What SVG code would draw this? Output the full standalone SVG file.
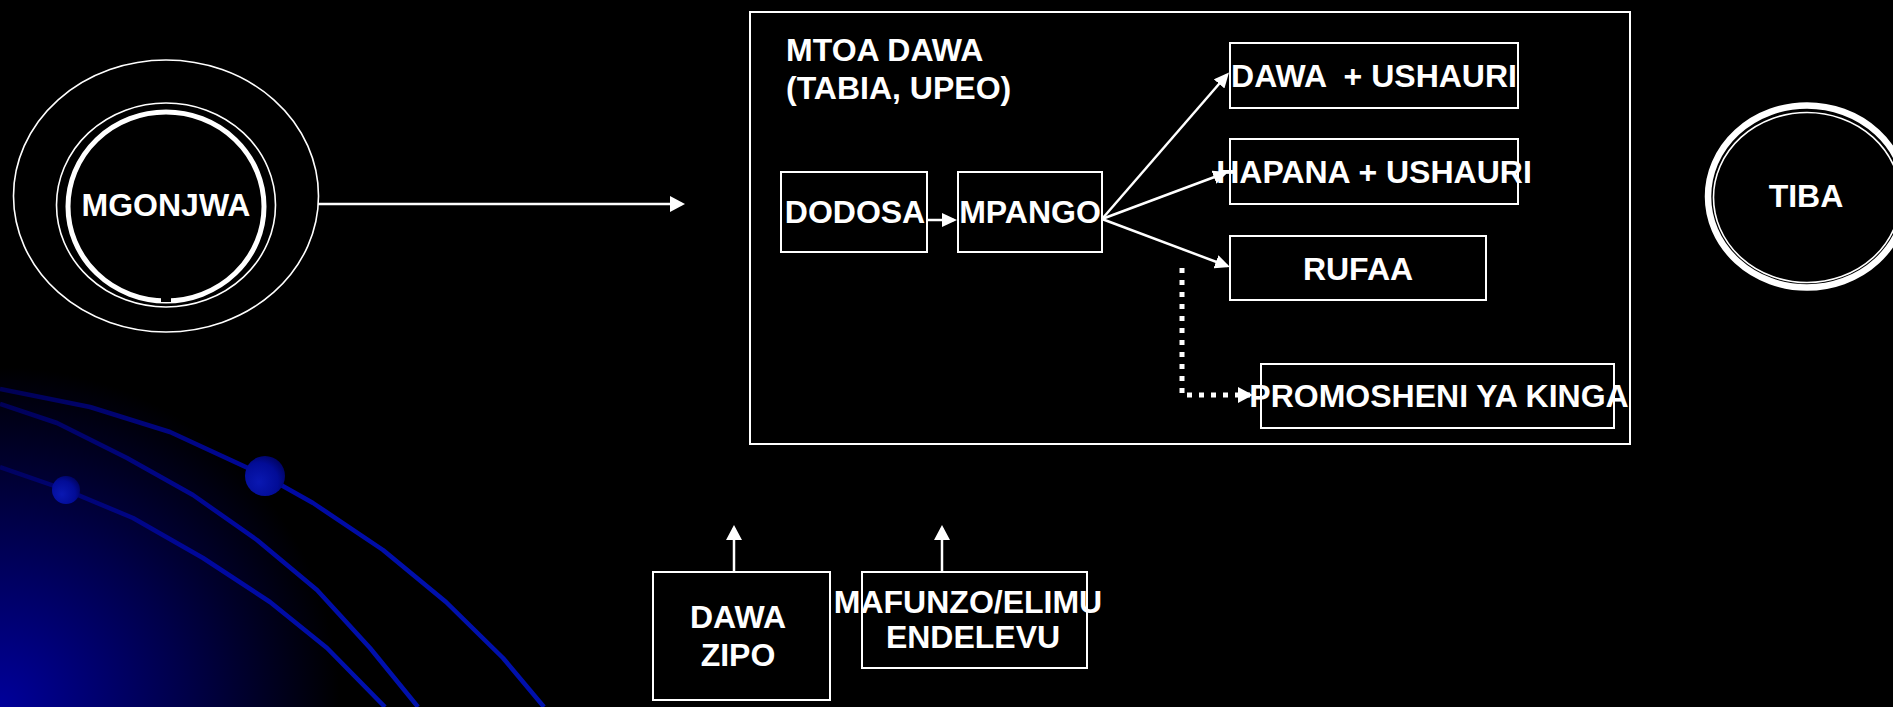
<svg xmlns="http://www.w3.org/2000/svg" width="1893" height="707" viewBox="0 0 1893 707">
  <defs>
    <radialGradient id="bgGlow" cx="0" cy="707" r="340" gradientUnits="userSpaceOnUse">
      <stop offset="0" stop-color="#00009A"/>
      <stop offset="0.55" stop-color="#000048"/>
      <stop offset="1" stop-color="#000000"/>
    </radialGradient>
    <linearGradient id="lineGrad" x1="0" y1="400" x2="380" y2="660" gradientUnits="userSpaceOnUse">
      <stop offset="0" stop-color="#000055"/>
      <stop offset="0.6" stop-color="#0008A0"/>
      <stop offset="1" stop-color="#0010AC"/>
    </linearGradient>
    <radialGradient id="sphere" cx="0.35" cy="0.65" r="0.8">
      <stop offset="0" stop-color="#0A18B2"/>
      <stop offset="0.6" stop-color="#020C96"/>
      <stop offset="1" stop-color="#000050"/>
    </radialGradient>
    <marker id="arrow" viewBox="0 0 15 14" refX="12" refY="7" markerWidth="15" markerHeight="14" markerUnits="userSpaceOnUse" orient="auto">
      <path d="M0,0 L15,7 L0,14 z" fill="#FFFFFF"/>
    </marker>
    <marker id="arrowBig" viewBox="0 0 15 16" refX="12" refY="8" markerWidth="15" markerHeight="16" markerUnits="userSpaceOnUse" orient="auto">
      <path d="M0,0 L15,8 L0,16 z" fill="#FFFFFF"/>
    </marker>
    <style>
      .box { fill: none; stroke: #FFFFFF; stroke-width: 2; }
      .lbl { font-family: "Liberation Sans", Arial, sans-serif; font-weight: bold; font-size: 32px; fill: #FFFFFF; }
      .mid { text-anchor: middle; }
      .conn { fill: none; stroke: #FFFFFF; stroke-width: 2.5; }
      .dotted { fill: none; stroke: #FFFFFF; stroke-width: 5; stroke-dasharray: 5 7; }
      .deco { fill: none; stroke: url(#lineGrad); stroke-width: 4.5; stroke-linejoin: round; }
      .ring { fill: none; stroke: #FFFFFF; }
    </style>
  </defs>

  <!-- background -->
  <rect x="0" y="0" width="1893" height="707" fill="#000000"/>
  <rect x="0" y="300" width="420" height="407" fill="url(#bgGlow)"/>
  <g id="decoration">
    <polyline class="deco" points="0,389 90,407 170,432 265,476 313,503 383,550 446,602 503,658 544,707"/>
    <polyline class="deco" points="0,404 57,423 127,458 193,495 257,540 317,590 370,648 418,707"/>
    <polyline class="deco" points="0,467 66,490 133,518 203,558 270,602 327,648 385,707"/>
    <circle cx="265" cy="476" r="20" fill="url(#sphere)"/>
    <circle cx="66" cy="490" r="14" fill="url(#sphere)"/>
  </g>

  <!-- connectors -->
  <g id="connectors">
    <line class="conn" x1="318" y1="204" x2="682" y2="204" marker-end="url(#arrowBig)"/>
    <line class="conn" x1="927" y1="220" x2="954" y2="220" marker-end="url(#arrow)"/>
    <line class="conn" x1="1102" y1="219" x2="1227" y2="74.8" marker-end="url(#arrow)"/>
    <line class="conn" x1="1102" y1="219" x2="1225.2" y2="173" marker-end="url(#arrow)"/>
    <line class="conn" x1="1102" y1="219" x2="1227.2" y2="266" marker-end="url(#arrow)"/>
    <path class="dotted" d="M1182,268 V395 H1250" marker-end="url(#arrowBig)"/>
    <line class="conn" x1="734" y1="572" x2="734" y2="528" marker-end="url(#arrowBig)"/>
    <line class="conn" x1="942" y1="572" x2="942" y2="528" marker-end="url(#arrowBig)"/>
  </g>

  <!-- MGONJWA -->
  <g id="node-mgonjwa">
    <ellipse class="ring" cx="166" cy="196" rx="152.5" ry="136" stroke-width="1.6"/>
    <ellipse class="ring" cx="166" cy="205" rx="109.5" ry="102" stroke-width="1.6"/>
    <ellipse class="ring" cx="166" cy="206.5" rx="98" ry="94.5" stroke-width="5"/>
    <rect x="161" y="297" width="10" height="5" fill="#000000"/>
    <text class="lbl mid" x="166" y="216">MGONJWA</text>
  </g>

  <!-- MTOA DAWA container -->
  <g id="node-mtoa-dawa">
    <rect class="box" x="750" y="12" width="880" height="432"/>
    <text class="lbl" x="786" y="61">MTOA DAWA</text>
    <text class="lbl" x="786" y="99">(TABIA, UPEO)</text>
  </g>

  <g id="node-dodosa">
    <rect class="box" x="781" y="172" width="146" height="80"/>
    <text class="lbl mid" x="855" y="223">DODOSA</text>
  </g>

  <g id="node-mpango">
    <rect class="box" x="958" y="172" width="144" height="80"/>
    <text class="lbl mid" x="1030" y="223">MPANGO</text>
  </g>

  <g id="node-dawa-ushauri">
    <rect class="box" x="1230" y="43" width="288" height="65"/>
    <text class="lbl mid" x="1374" y="87" xml:space="preserve" style="white-space:pre">DAWA  + USHAURI</text>
  </g>

  <g id="node-hapana-ushauri">
    <rect class="box" x="1230" y="139" width="288" height="65"/>
    <text class="lbl mid" x="1374" y="183">HAPANA + USHAURI</text>
  </g>

  <g id="node-rufaa">
    <rect class="box" x="1230" y="236" width="256" height="64"/>
    <text class="lbl mid" x="1358" y="280">RUFAA</text>
  </g>

  <g id="node-promosheni">
    <rect class="box" x="1261" y="364" width="353" height="64"/>
    <text class="lbl mid" x="1439" y="407">PROMOSHENI YA KINGA</text>
  </g>

  <!-- TIBA -->
  <g id="node-tiba">
    <ellipse class="ring" cx="1807" cy="196.5" rx="99" ry="91" stroke-width="6.5"/>
    <ellipse class="ring" cx="1807" cy="197.5" rx="93.5" ry="85" stroke-width="1.6"/>
    <text class="lbl mid" x="1806" y="207">TIBA</text>
  </g>

  <!-- bottom boxes -->
  <g id="node-dawa-zipo">
    <rect class="box" x="653" y="572" width="177" height="128"/>
    <text class="lbl mid" x="738" y="628">DAWA</text>
    <text class="lbl mid" x="738" y="666">ZIPO</text>
  </g>

  <g id="node-mafunzo">
    <rect class="box" x="862" y="572" width="225" height="96"/>
    <text class="lbl mid" x="968" y="613">MAFUNZO/ELIMU</text>
    <text class="lbl mid" x="973" y="648">ENDELEVU</text>
  </g>
</svg>
